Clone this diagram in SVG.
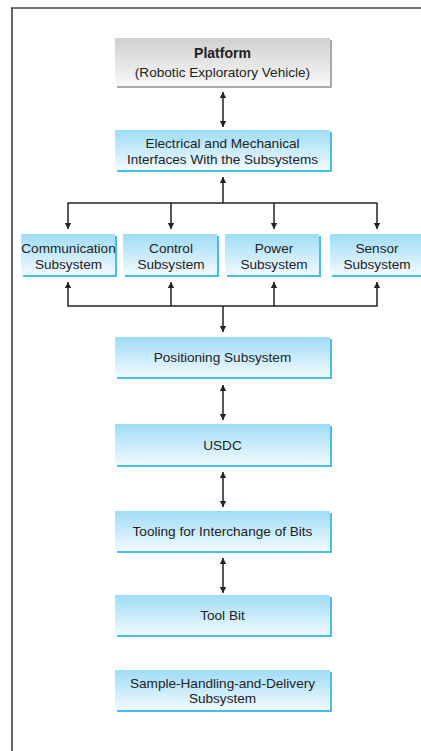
<svg xmlns="http://www.w3.org/2000/svg" width="421" height="751" viewBox="0 0 421 751">
<defs>
<linearGradient id="gBlue" x1="0" y1="0" x2="0" y2="1">
<stop offset="0" stop-color="#9fdcf6"/>
<stop offset="1" stop-color="#f2fafe"/>
</linearGradient>
<linearGradient id="gGray" x1="0" y1="0" x2="0" y2="1">
<stop offset="0" stop-color="#cfcfcf"/>
<stop offset="1" stop-color="#f9f9f9"/>
</linearGradient>
<marker id="ah" viewBox="0 0 6 10" refX="6" refY="5" markerWidth="6" markerHeight="10" markerUnits="userSpaceOnUse" orient="auto-start-reverse">
<path d="M0,1.8 L6,5 L0,8.2 Z" fill="#222"/>
</marker>
</defs>
<style>
.sh{fill:#3fc1ec}
.bx{fill:url(#gBlue)}
.gsh{fill:#a9a9a9}
.gbx{fill:url(#gGray)}
text{font-family:"Liberation Sans",Arial,sans-serif;font-size:13.6px;fill:#222;text-anchor:middle}
.b{font-weight:bold;font-size:14px}
.ln{stroke:#222;stroke-width:1.5;fill:none}
.ar{stroke:#222;stroke-width:1.5;fill:none;marker-end:url(#ah)}
.da{stroke:#222;stroke-width:1.5;fill:none;marker-end:url(#ah);marker-start:url(#ah)}
</style>
<rect width="421" height="751" fill="#fff"/>
<g id="frame">
<line x1="12" y1="8" x2="12" y2="751" stroke="#666" stroke-width="2"/>
<line x1="11" y1="8" x2="421" y2="8" stroke="#444" stroke-width="1.6"/>
</g>
<g id="platform">
<rect class="gsh" x="117" y="40" width="215" height="48"/>
<rect class="gbx" x="115" y="38" width="215" height="48"/>
<text class="b" x="222.5" y="58">Platform</text>
<text x="222.5" y="77">(Robotic Exploratory Vehicle)</text>
</g>
<g id="interfaces">
<rect class="sh" x="117" y="132" width="215" height="40"/>
<rect class="bx" x="115" y="130" width="215" height="40"/>
<text x="222.5" y="148">Electrical and Mechanical</text>
<text x="222.5" y="164">Interfaces With the Subsystems</text>
</g>
<g id="communication">
<rect class="sh" x="23" y="236" width="94" height="41"/>
<rect class="bx" x="21" y="234" width="94" height="41"/>
<text x="68.5" y="253">Communication</text>
<text x="68.5" y="269">Subsystem</text>
</g>
<g id="control">
<rect class="sh" x="125" y="236" width="94" height="41"/>
<rect class="bx" x="123" y="234" width="94" height="41"/>
<text x="171" y="253">Control</text>
<text x="171" y="269">Subsystem</text>
</g>
<g id="power">
<rect class="sh" x="227" y="236" width="94" height="41"/>
<rect class="bx" x="225" y="234" width="94" height="41"/>
<text x="274" y="253">Power</text>
<text x="274" y="269">Subsystem</text>
</g>
<g id="sensor">
<rect class="sh" x="332" y="236" width="94" height="41"/>
<rect class="bx" x="330" y="234" width="94" height="41"/>
<text x="377" y="253">Sensor</text>
<text x="377" y="269">Subsystem</text>
</g>
<g id="positioning">
<rect class="sh" x="117" y="339" width="215" height="40"/>
<rect class="bx" x="115" y="337" width="215" height="40"/>
<text x="222.5" y="362">Positioning Subsystem</text>
</g>
<g id="usdc">
<rect class="sh" x="117" y="426" width="215" height="41"/>
<rect class="bx" x="115" y="424" width="215" height="41"/>
<text x="222.5" y="450">USDC</text>
</g>
<g id="tooling">
<rect class="sh" x="117" y="513" width="215" height="40"/>
<rect class="bx" x="115" y="511" width="215" height="40"/>
<text x="222.5" y="536">Tooling for Interchange of Bits</text>
</g>
<g id="toolbit">
<rect class="sh" x="117" y="597" width="215" height="40"/>
<rect class="bx" x="115" y="595" width="215" height="40"/>
<text x="222.5" y="620">Tool Bit</text>
</g>
<g id="sample">
<rect class="sh" x="117" y="672" width="215" height="40"/>
<rect class="bx" x="115" y="670" width="215" height="40"/>
<text x="222.5" y="688">Sample-Handling-and-Delivery</text>
<text x="222.5" y="703">Subsystem</text>
</g>
<g id="connectors">
<line class="da" x1="223" y1="92" x2="223" y2="127"/>
<line class="ar" x1="223" y1="203" x2="223" y2="177"/>
<line class="ln" x1="67.5" y1="203" x2="377.5" y2="203"/>
<line class="ar" x1="68" y1="203" x2="68" y2="229"/>
<line class="ar" x1="171" y1="203" x2="171" y2="229"/>
<line class="ar" x1="274" y1="203" x2="274" y2="229"/>
<line class="ar" x1="377" y1="203" x2="377" y2="229"/>
<line class="ar" x1="68" y1="306" x2="68" y2="282"/>
<line class="ar" x1="171" y1="306" x2="171" y2="282"/>
<line class="ar" x1="274" y1="306" x2="274" y2="282"/>
<line class="ar" x1="377" y1="306" x2="377" y2="282"/>
<line class="ln" x1="67.5" y1="306" x2="377.5" y2="306"/>
<line class="ar" x1="223" y1="306" x2="223" y2="332"/>
<line class="da" x1="223" y1="385" x2="223" y2="420"/>
<line class="da" x1="223" y1="472" x2="223" y2="507"/>
<line class="da" x1="223" y1="558" x2="223" y2="593"/>
</g>
</svg>
